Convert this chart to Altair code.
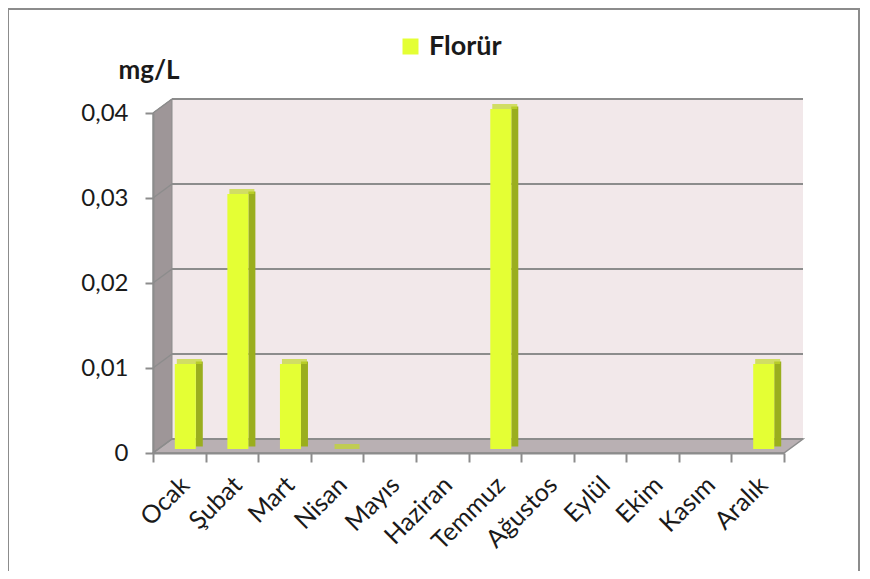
import altair as alt
import pandas as pd

# ---- data ----
months = ["Ocak", "Şubat", "Mart", "Nisan", "Mayıs", "Haziran",
          "Temmuz", "Ağustos", "Eylül", "Ekim", "Kasım", "Aralık"]
values = [0.01, 0.03, 0.01, 0.0, None, None, 0.04, None, None, None, None, 0.01]
series_name = "Florür"
y_ticks = [0, 0.01, 0.02, 0.03, 0.04]
y_title = "mg/L"

# ---- style ----
W, H = 631, 340
DX, DY = 19, -14          # 3D depth shift of the back wall
FONT = "Lato"
GRID = "#8c8c8c"
FRONT = "#e4ff34"
SIDE = "#9aae1e"
TOP = "#c3d92b"

bars_df = pd.DataFrame({"month": months, "value": values})
bars_df = bars_df[bars_df["value"].notna()]
grid_df = pd.DataFrame({"v": y_ticks})
one = pd.DataFrame({"k": [0]})

# decorative 3D walls in pixel space
floor_df = pd.DataFrame({"px": [0, DX, W, W + DX],
                         "py": [H, H + DY, H + DY, H + DY],
                         "py2": [H, H, H, H + DY]})
wall_df = pd.DataFrame({"px": [0, DX], "py": [0, DY], "py2": [H, H + DY]})

xs = alt.Scale(domain=months, paddingInner=0, paddingOuter=0)
ysc = alt.Scale(domain=[0, 0.04], nice=False, zero=True)

xaxis = alt.Axis(title=None, tickBand="extent", labelAngle=-45, labelAlign="right",
                 labelBaseline="top", labelFont=FONT, labelFontSize=25,
                 labelColor="#1a1a1a", labelPadding=10, labelOffset=-3, tickSize=9, tickWidth=2,
                 tickColor=GRID, domainColor=GRID, domainWidth=2, grid=False, zindex=2)
yaxis = alt.Axis(values=y_ticks, title=y_title, titleAngle=0, titleX=-35, titleY=-35,
                 titleAlign="left", titleBaseline="alphabetic", titleFont=FONT,
                 titleFontSize=26, titleFontWeight="bold", titleColor="#1a1a1a",
                 labelExpr="datum.value == 0 ? '0' : replace(format(datum.value, '.2f'), '.', ',')",
                 labelFont=FONT, labelFontSize=24, labelColor="#1a1a1a",
                 labelPadding=17, tickSize=8, tickWidth=2, tickColor=GRID,
                 domainColor=GRID, domainWidth=2, grid=False, zindex=2)

border = alt.Chart(one).mark_rect(fill=None, stroke="#8c8c8c", strokeWidth=2).encode(
    x=alt.value(-145), x2=alt.value(706), y=alt.value(-104), y2=alt.value(520))

back = alt.Chart(one).mark_rect(fill="#f2e8ea").encode(
    x=alt.value(DX), x2=alt.value(W + DX), y=alt.value(DY), y2=alt.value(H + DY))

left_wall = alt.Chart(wall_df).mark_area(color="#9e9698", stroke=GRID, strokeWidth=1).encode(
    x=alt.X("px:Q", scale=None, axis=None),
    y=alt.Y("py:Q", scale=None, axis=None),
    y2="py2:Q")

floor = alt.Chart(floor_df).mark_area(color="#b9b0b3", stroke=GRID, strokeWidth=1.5).encode(
    x=alt.X("px:Q", scale=None, axis=None),
    y=alt.Y("py:Q", scale=None, axis=None),
    y2="py2:Q")

decor = alt.layer(border, back, left_wall, floor)

grid_back = alt.Chart(grid_df).mark_rule(color=GRID, strokeWidth=2, yOffset=DY).encode(
    x=alt.value(DX), x2=alt.value(W + DX),
    y=alt.Y("v:Q", scale=ysc, axis=yaxis))

grid_diag = alt.Chart(grid_df).mark_rule(color=GRID, strokeWidth=1.5, y2Offset=DY).encode(
    x=alt.value(0), x2=alt.value(DX),
    y=alt.Y("v:Q", scale=ysc, axis=yaxis), y2="v:Q")

xenc = alt.X("month:N", scale=xs, sort=months, axis=xaxis)
yenc = alt.Y("value:Q", scale=ysc, axis=yaxis)

side = alt.Chart(bars_df).mark_bar(color=SIDE, width=7, xOffset=20, yOffset=-6.5).encode(
    x=xenc, y=yenc)
top = alt.Chart(bars_df).mark_tick(color=TOP, size=25, thickness=5, xOffset=10, yOffset=-6.5).encode(
    x=xenc, y=yenc)
front = alt.Chart(bars_df).mark_bar(width=21, xOffset=6, yOffset=-4).encode(
    x=xenc, y=yenc,
    color=alt.Color("series:N",
                    scale=alt.Scale(domain=[series_name], range=[FRONT]),
                    legend=alt.Legend(title=None, orient="none", legendX=244, legendY=-80,
                                      symbolType="square", symbolSize=256, symbolStrokeWidth=0,
                                      labelFont=FONT, labelFontSize=27, labelFontWeight="bold",
                                      labelColor="#1a1a1a", labelOffset=5))
).transform_calculate(series=f"'{series_name}'")

data_layer = alt.layer(grid_back, grid_diag, side, top, front)

chart = alt.layer(decor, data_layer).resolve_scale(
    x="independent", y="independent"
).properties(
    width=W, height=H,
    autosize=alt.AutoSizeParams(type="none"),
    padding={"left": 145, "top": 105, "right": 78, "bottom": 118},
).configure_view(stroke=None)

chart.save("out.html", embed_options={"renderer": "svg", "actions": False})
